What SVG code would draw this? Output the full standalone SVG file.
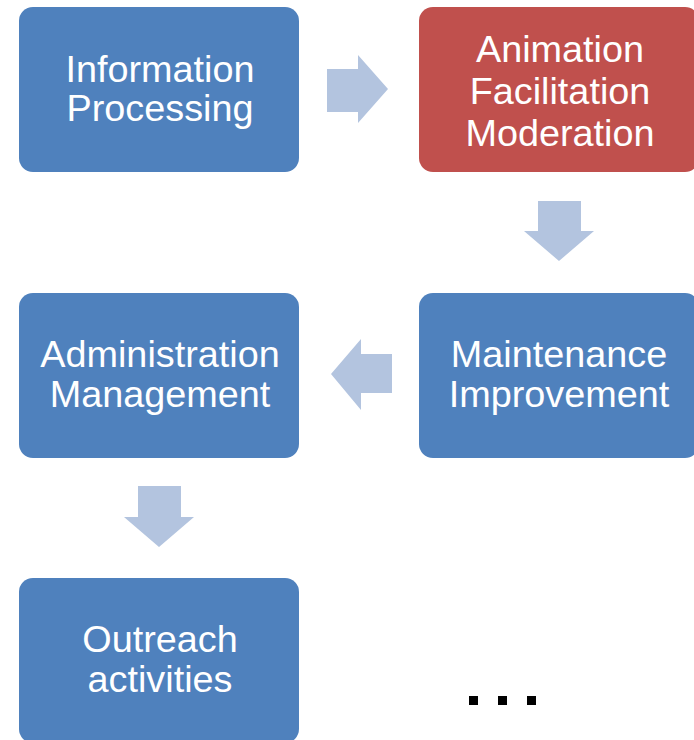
<svg xmlns="http://www.w3.org/2000/svg" width="694" height="740" viewBox="0 0 694 740">
<style>
.box{fill:#4F81BD}
.red{fill:#C0504D}
.t{font-family:"Liberation Sans",Arial,sans-serif;font-size:37.8px;fill:#fff;text-anchor:middle}
.arr{fill:#B3C4DF}
</style>
<rect width="694" height="740" fill="#fff"/>
<g id="n1"><rect class="box" x="19" y="7" width="280" height="165" rx="14"/>
<text class="t" x="160" y="82">Information</text><text class="t" x="160" y="121">Processing</text></g>
<g id="n2"><rect class="red" x="419" y="7" width="280" height="165" rx="14"/>
<text class="t" x="560" y="62">Animation</text><text class="t" x="560" y="104">Facilitation</text><text class="t" x="560" y="146">Moderation</text></g>
<g id="n3"><rect class="box" x="419" y="293" width="280" height="165" rx="14"/>
<text class="t" x="559" y="367">Maintenance</text><text class="t" x="559" y="407">Improvement</text></g>
<g id="n4"><rect class="box" x="19" y="293" width="280" height="165" rx="14"/>
<text class="t" x="160" y="367">Administration</text><text class="t" x="160" y="407">Management</text></g>
<g id="n5"><rect class="box" x="19" y="578" width="280" height="165" rx="14"/>
<text class="t" x="160" y="652">Outreach</text><text class="t" x="160" y="692">activities</text></g>
<g id="connectors">
<polygon class="arr" points="327,69 358,69 358,55 388,89 358,123 358,112 327,112"/>
<polygon class="arr" points="538,201 581,201 581,231 594,231 559,261 524,231 538,231"/>
<polygon class="arr" points="392,354 361,354 361,339 331,374 361,410 361,393 392,393"/>
<polygon class="arr" points="138,486 181,486 181,517 194,517 159,547 124,517 138,517"/>
</g>
<g id="dots" fill="#000">
<rect x="469" y="696" width="9" height="9"/><rect x="498" y="696" width="9" height="9"/><rect x="527" y="696" width="9" height="9"/>
</g>
</svg>
